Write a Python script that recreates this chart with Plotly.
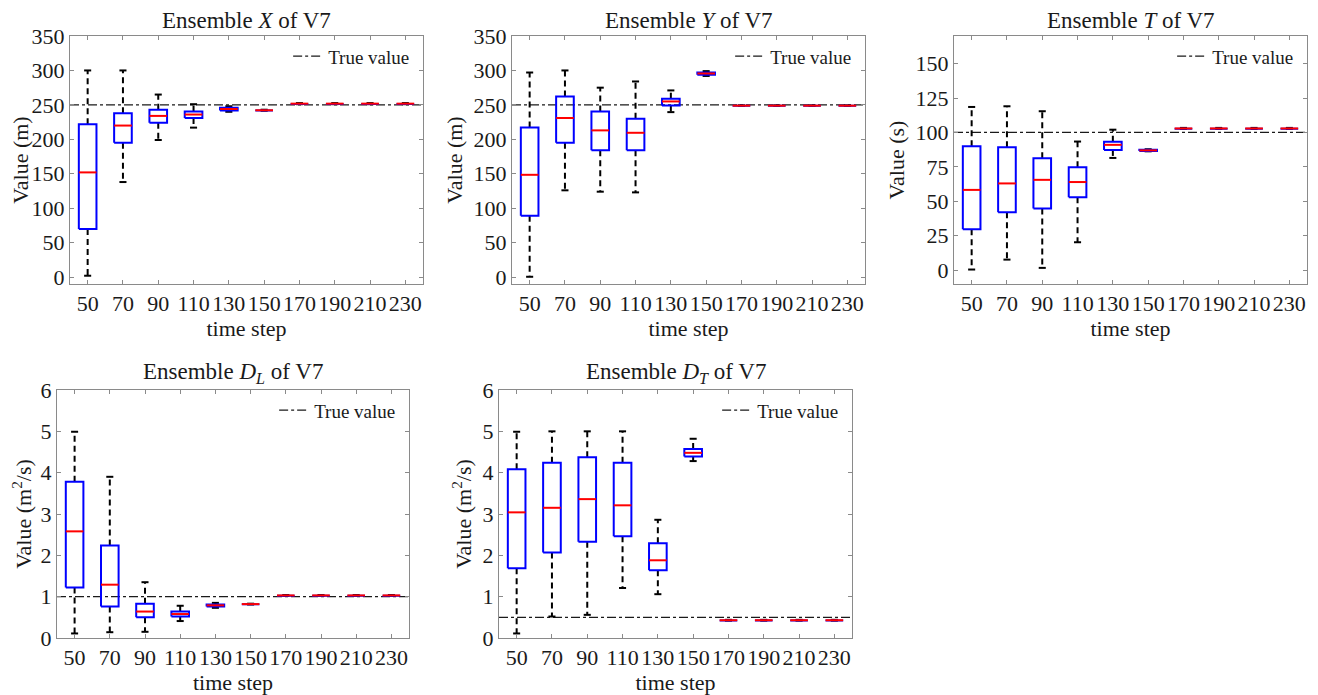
import plotly.graph_objects as go

# ---------------- data ----------------
time_steps = [50, 70, 90, 110, 130, 150, 170, 190, 210, 230]
tick_labels = ["50", "70", "90", "110", "130", "150", "170", "190", "210", "230"]

# Ensemble X (m)
x_upper = [300, 300, 265, 251, 248, 243, 252.6, 252.6, 252.6, 252.6]
x_q3 = [222, 238, 243, 240.5, 246, 242.6, 252.2, 252.2, 252.2, 252.2]
x_med = [152, 220, 234, 236, 244, 242.2, 251.8, 251.8, 251.8, 251.8]
x_q1 = [70, 195, 224, 231, 242, 241.8, 251.4, 251.4, 251.4, 251.4]
x_lower = [2, 138, 199, 217, 240, 241.5, 251.0, 251.0, 251.0, 251.0]
x_true = 250

# Ensemble Y (m)
y_upper = [297, 300, 275, 284, 271, 299, 249.4, 249.4, 249.4, 249.4]
y_q3 = [217, 262, 240.5, 230, 259, 297, 249.2, 249.2, 249.2, 249.2]
y_med = [148.5, 231, 213, 209.5, 255, 295.6, 248.9, 248.9, 248.9, 248.9]
y_q1 = [89, 195, 184, 184, 249, 293.7, 248.6, 248.6, 248.6, 248.6]
y_lower = [0.5, 126, 124, 123, 239.5, 292, 248.4, 248.4, 248.4, 248.4]
y_true = 250

# Ensemble T (s)
t_upper = [118.5, 119, 115.4, 93.4, 102, 87.8, 103.3, 103.3, 103.3, 103.3]
t_q3 = [90, 89.3, 81.3, 74.8, 93.2, 87.4, 103.1, 103.1, 103.1, 103.1]
t_med = [58.3, 63, 65.6, 64, 91, 87.0, 102.9, 102.9, 102.9, 102.9]
t_q1 = [29.8, 42, 44.8, 53, 87.3, 86.6, 102.7, 102.7, 102.7, 102.7]
t_lower = [0.5, 7.7, 1.7, 20.3, 81.5, 86.3, 102.5, 102.5, 102.5, 102.5]
t_true = 100

# Ensemble D_L (m^2/s)
dl_upper = [4.99, 3.9, 1.35, 0.78, 0.85, 0.83, 1.04, 1.04, 1.04, 1.04]
dl_q3 = [3.78, 2.24, 0.83, 0.64, 0.81, 0.825, 1.035, 1.035, 1.035, 1.035]
dl_med = [2.58, 1.29, 0.64, 0.58, 0.79, 0.82, 1.03, 1.03, 1.03, 1.03]
dl_q1 = [1.22, 0.76, 0.50, 0.52, 0.76, 0.815, 1.025, 1.025, 1.025, 1.025]
dl_lower = [0.11, 0.14, 0.15, 0.41, 0.73, 0.81, 1.02, 1.02, 1.02, 1.02]
dl_true = 1

# Ensemble D_T (m^2/s)
dt_upper = [4.99, 5.0, 5.0, 5.0, 2.86, 4.82, 0.44, 0.44, 0.44, 0.44]
dt_q3 = [4.08, 4.24, 4.37, 4.24, 2.29, 4.57, 0.435, 0.435, 0.435, 0.435]
dt_med = [3.04, 3.15, 3.36, 3.21, 1.88, 4.48, 0.43, 0.43, 0.43, 0.43]
dt_q1 = [1.69, 2.07, 2.33, 2.46, 1.64, 4.39, 0.425, 0.425, 0.425, 0.425]
dt_lower = [0.11, 0.52, 0.56, 1.21, 1.06, 4.28, 0.42, 0.42, 0.42, 0.42]
dt_true = 0.5

titles = ["Ensemble <i>X</i> of V7", "Ensemble <i>Y</i> of V7", "Ensemble <i>T</i> of V7",
          "Ensemble <i>D</i><sub><i>L</i></sub> of V7", "Ensemble <i>D</i><sub><i>T</i></sub> of V7"]
ylabels = ["Value (m)", "Value (m)", "Value (s)", "Value (m<sup>2</sup>/s)", "Value (m<sup>2</sup>/s)"]

# ---------------- layout ----------------
OFF = 8  # page body margin
W, H = 1318 - OFF, 695 - OFF
panel_px = [  # left, right, top, bottom in window px
    (70, 423, 36, 284),
    (512, 865, 36, 284),
    (954, 1307, 36, 284),
    (57, 409, 390, 638),
    (499, 852, 390, 638),
]
yranges = [[-10, 350], [-10, 350], [-10, 170], [0, 6], [0, 6]]
ytickvals = [list(range(0, 351, 50)), list(range(0, 351, 50)), list(range(0, 151, 25)),
             list(range(0, 7)), list(range(0, 7))]

stats = [
    (x_upper, x_q3, x_med, x_q1, x_lower, x_true),
    (y_upper, y_q3, y_med, y_q1, y_lower, y_true),
    (t_upper, t_q3, t_med, t_q1, t_lower, t_true),
    (dl_upper, dl_q3, dl_med, dl_q1, dl_lower, dl_true),
    (dt_upper, dt_q3, dt_med, dt_q1, dt_lower, dt_true),
]

FONT = "Liberation Serif, Times New Roman, serif"
BOX_HW = 5.0   # half box width in x units
CAP_HW = 2.0   # half cap width
AX_COL = "#8a8a8a"
TXT = "#1a1a1a"

fig = go.Figure()
annotations = []
layout_kw = {}

for i, (up, q3, med, q1, lo, truth) in enumerate(stats):
    n = "" if i == 0 else str(i + 1)
    xa, ya = "x" + n, "y" + n
    leg = "legend" + n

    # true value line
    fig.add_trace(go.Scatter(x=[40, 240], y=[truth, truth], mode="lines", name="True value",
                             line=dict(color="#1a1a1a", width=1.2, dash="dashdot"),
                             xaxis=xa, yaxis=ya, legend=leg, showlegend=True, hoverinfo="skip"))

    wx, wy, cx, cy, bx, by, mx, my = [], [], [], [], [], [], [], []
    for t, u, a, m, b, l in zip(time_steps, up, q3, med, q1, lo):
        wx += [t, t, None, t, t, None]
        wy += [a, u, None, b, l, None]
        cx += [t - CAP_HW, t + CAP_HW, None, t - CAP_HW, t + CAP_HW, None]
        cy += [u, u, None, l, l, None]
        bx += [t - BOX_HW, t + BOX_HW, t + BOX_HW, t - BOX_HW, t - BOX_HW, None]
        by += [b, b, a, a, b, None]
        mx += [t - BOX_HW, t + BOX_HW, None]
        my += [m, m, None]

    fig.add_trace(go.Scatter(x=wx, y=wy, mode="lines", line=dict(color="black", width=2, dash="6px,4px"),
                             xaxis=xa, yaxis=ya, showlegend=False, hoverinfo="skip"))
    fig.add_trace(go.Scatter(x=cx, y=cy, mode="lines", line=dict(color="black", width=2),
                             xaxis=xa, yaxis=ya, showlegend=False, hoverinfo="skip"))
    fig.add_trace(go.Scatter(x=bx, y=by, mode="lines", line=dict(color="#0000ff", width=2),
                             xaxis=xa, yaxis=ya, showlegend=False, hoverinfo="skip"))
    fig.add_trace(go.Scatter(x=mx, y=my, mode="lines", line=dict(color="#ff0000", width=2),
                             xaxis=xa, yaxis=ya, showlegend=False, hoverinfo="skip"))

    l_, r_, t_, b_ = [v - OFF for v in panel_px[i]]
    xd = [l_ / W, r_ / W]
    yd = [1 - b_ / H, 1 - t_ / H]

    axis_common = dict(showline=True, linecolor=AX_COL, linewidth=1, mirror="ticks",
                       ticks="inside", ticklen=4, tickcolor=AX_COL, showgrid=False, zeroline=False,
                       tickfont=dict(family=FONT, size=22, color=TXT), automargin=False)
    layout_kw["xaxis" + n] = dict(axis_common, domain=xd, anchor=ya, range=[40, 240],
                                  tickvals=time_steps, ticktext=tick_labels,
                                  title=dict(text="time step", font=dict(family=FONT, size=22, color=TXT),
                                             standoff=0))
    layout_kw["yaxis" + n] = dict(axis_common, domain=yd, anchor=xa, range=yranges[i],
                                  tickvals=ytickvals[i],
                                  title=dict(text=ylabels[i], font=dict(family=FONT, size=22, color=TXT),
                                             standoff=4))
    layout_kw[leg] = dict(x=xd[1] - 0.006, y=yd[1] - 0.002, xanchor="right", yanchor="top",
                          bgcolor="rgba(0,0,0,0)", borderwidth=0,
                          font=dict(family=FONT, size=19, color=TXT))
    annotations.append(dict(text=titles[i], x=(xd[0] + xd[1]) / 2, y=yd[1], xref="paper", yref="paper",
                            xanchor="center", yanchor="bottom", yshift=1, showarrow=False,
                            font=dict(family=FONT, size=23, color=TXT)))

fig.update_layout(width=W, height=H, margin=dict(l=0, r=0, t=0, b=0),
                  paper_bgcolor="white", plot_bgcolor="white",
                  font=dict(family=FONT, color=TXT),
                  annotations=annotations, **layout_kw)

fig.write_html("out.html")
